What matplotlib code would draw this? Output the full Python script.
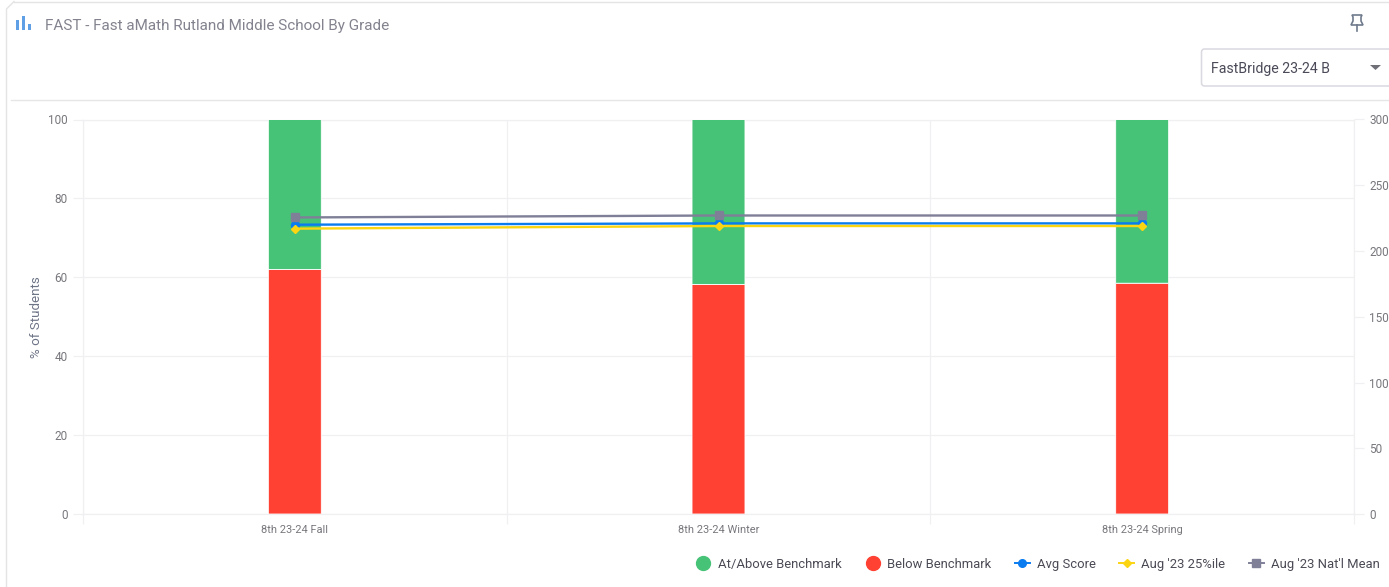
import matplotlib
matplotlib.use("Agg")
import matplotlib.pyplot as plt
from matplotlib.lines import Line2D
from matplotlib.patches import FancyBboxPatch, Polygon, Rectangle

plt.rcParams["font.family"] = ["Roboto", "DejaVu Sans"]

W, H = 1389, 587

# chart values
terms = ["8th 23-24 Fall", "8th 23-24 Winter", "8th 23-24 Spring"]
below = [62.0, 58.2, 58.5]
above = [38.0, 41.8, 41.5]
avg_score = [220, 221, 221]
pct25 = [217, 219, 219]
nat_mean = [225.5, 227, 227]

GREEN = "#47c378"
RED = "#ff4133"
BLUE = "#0a7cf0"
YELLOW = "#fbd512"
SLATE = "#7f7f98"
GRID = "#f0f0f2"
TICKTXT = "#77777d"

fig = plt.figure(figsize=(W / 100, H / 100), dpi=100, facecolor="white")

# page furniture, laid out in pixels
bg = fig.add_axes([0, 0, 1, 1], zorder=0)
bg.set_xlim(0, W)
bg.set_ylim(H, 0)
bg.axis("off")

bg.plot([6.5, 6.5, 14], [H, 9, 1.5], color="#e4e4e6", lw=1.0, solid_joinstyle="round")
bg.plot([14, W], [1.5, 1.5], color="#e4e4e6", lw=1.0)
bg.plot([11, W], [99.5, 99.5], color="#e6e6e8", lw=1.0)

# bar chart icon
for x0, top, bottom in [(16, 20, 30), (22, 16, 30), (28, 24, 30)]:
    bg.add_patch(Rectangle((x0, top), 3, bottom - top, color="#5f9fe6", lw=0))

bg.text(45, 26, "FAST - Fast aMath Rutland Middle School By Grade", fontsize=11,
        color="#83838f", va="center", ha="left")

# pin icon
pin = "#6f7a8c"
bg.add_patch(Polygon([(1352, 15), (1362, 15), (1361, 17), (1361, 21), (1363, 25), (1351, 25),
                      (1353, 21), (1353, 17)], closed=True, fill=False, ec=pin, lw=1.2))
bg.plot([1357, 1357], [25, 31], color=pin, lw=1.2)

# dropdown
bg.add_patch(FancyBboxPatch((1201.5, 49), 220, 37, boxstyle="round,pad=0,rounding_size=3",
                            fc="white", ec="#d9d9e0", lw=1.1))
label = bg.text(1211, 68.5, "FastBridge 23-24 B", fontsize=10.2, color="#4a4a58",
                va="center", ha="left")
label.set_clip_path(Rectangle((1205, 55), 124, 28, transform=bg.transData))
bg.add_patch(Polygon([(1370, 65), (1381, 65), (1375.5, 70)], closed=True, color="#6f6f78", lw=0))

# main plot
x0, x1, ytop, ybot = 83, 1354, 119.5, 514
ax = fig.add_axes([x0 / W, 1 - ybot / H, (x1 - x0) / W, (ybot - ytop) / H], zorder=1)
ax.patch.set_alpha(0)
xs = list(range(len(terms)))
ax.bar(xs, below, width=0.125, color=RED, edgecolor="white", linewidth=0.6, zorder=3, snap=False)
ax.bar(xs, above, width=0.125, bottom=below, color=GREEN, edgecolor="white", linewidth=0.6, zorder=3, snap=False)
ax.set_xlim(-0.5, 2.5)
ax.set_ylim(0, 100)
ax.set_yticks(range(0, 101, 20))
ax.set_xticks(xs)
ax.set_xticklabels(terms)
ax.set_xticks([-0.5, 0.5, 1.5, 2.5], minor=True)
ax.tick_params(axis="x", which="major", length=0, labelsize=7.9, labelcolor=TICKTXT, pad=8)
ax.tick_params(axis="x", which="minor", length=7.5, color=GRID, width=0.9)
ax.tick_params(axis="y", length=7.5, color=GRID, width=0.9, labelsize=8.5, labelcolor=TICKTXT, pad=3.5)
ax.set_axisbelow(True)
ax.grid(axis="y", color=GRID, lw=0.9)
ax.grid(axis="x", which="minor", color=GRID, lw=0.9)
for side in ax.spines.values():
    side.set_color(GRID)
    side.set_linewidth(0.9)
ax.set_ylabel("% of Students", fontsize=9.6, color="#6d7486", labelpad=4)

# score lines on the second axis
ax2 = ax.twinx()
ax2.set_ylim(0, 300)
ax2.set_yticks(range(0, 301, 50))
ax2.tick_params(axis="y", length=7.5, color=GRID, width=0.9, labelsize=8.5, labelcolor=TICKTXT, pad=3.5)
for side in ax2.spines.values():
    side.set_visible(False)
ax2.plot(xs, avg_score, color=BLUE, lw=1.7, marker="o", ms=5.8, zorder=4)
ax2.plot(xs, pct25, color=YELLOW, lw=1.7, marker="D", ms=4, zorder=5)
ax2.plot(xs, nat_mean, color=SLATE, lw=1.7, marker="s", ms=5.8, zorder=6)

# legend
handles = [
    Line2D([], [], color=GREEN, marker="o", ms=10, ls="none"),
    Line2D([], [], color=RED, marker="o", ms=10, ls="none"),
    Line2D([], [], color=BLUE, marker="o", ms=5.5, lw=1.4),
    Line2D([], [], color=YELLOW, marker="D", ms=3.8, lw=1.4),
    Line2D([], [], color=SLATE, marker="s", ms=5.5, lw=1.4),
]
names = ["At/Above Benchmark", "Below Benchmark", "Avg Score", "Aug '23 25%ile", "Aug '23 Nat'l Mean"]
leg = fig.legend(handles, names, ncol=5, loc="center right", bbox_to_anchor=(1386 / W, 1 - 564.5 / H),
                 frameon=False, fontsize=9.4, handlelength=1.15, handletextpad=0.55,
                 columnspacing=1.78, borderpad=0, labelcolor="#4a4a55")

fig.savefig("out.png", dpi=100, facecolor="white")
